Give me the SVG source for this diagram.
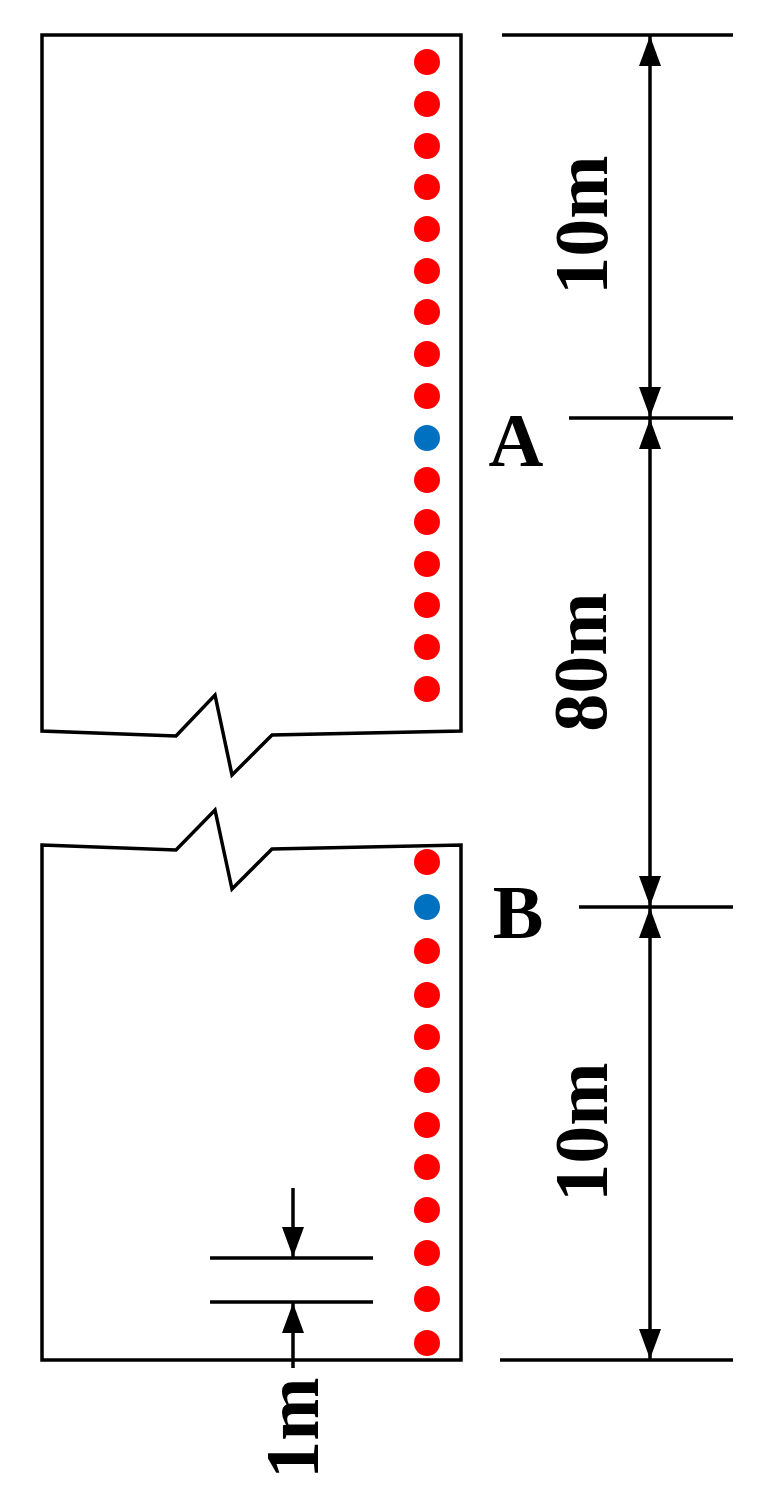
<svg xmlns="http://www.w3.org/2000/svg" width="758" height="1508" viewBox="0 0 758 1508">
<style>
.l{stroke:#000;stroke-width:3.5;fill:none}
.r{fill:#ff0000}.b{fill:#0070c0}
.t{font-family:'Liberation Serif','Times New Roman',Times,serif;font-weight:700;font-size:76px;fill:#000}
</style>
<defs>
<marker id="ah" viewBox="0 0 30 22" refX="30" refY="11" markerWidth="30" markerHeight="22" markerUnits="userSpaceOnUse" orient="auto"><path d="M0,0L30,11L0,22Z" fill="#000"/></marker>
</defs>
<rect width="758" height="1508" fill="#fff"/>
<g id="block-top"><path class="l" d="M42,35H461V731L272,735L232,775L215,695L176,736L42,731Z"/></g>
<g id="block-bottom"><path class="l" d="M42,845L176,850L215,810L232,889L272,849L461,845V1360H42Z"/></g>
<g id="dots-top">
<circle class="r" cx="427" cy="62" r="13"/><circle class="r" cx="427" cy="104" r="13"/><circle class="r" cx="427" cy="146" r="13"/><circle class="r" cx="427" cy="187" r="13"/><circle class="r" cx="427" cy="229" r="13"/><circle class="r" cx="427" cy="271" r="13"/><circle class="r" cx="427" cy="312" r="13"/><circle class="r" cx="427" cy="354" r="13"/><circle class="r" cx="427" cy="396" r="13"/><circle class="b" cx="427" cy="438" r="13"/><circle class="r" cx="427" cy="480" r="13"/><circle class="r" cx="427" cy="522" r="13"/><circle class="r" cx="427" cy="564" r="13"/><circle class="r" cx="427" cy="605" r="13"/><circle class="r" cx="427" cy="647" r="13"/><circle class="r" cx="427" cy="689" r="13"/>
</g>
<g id="dots-bottom">
<circle class="r" cx="427" cy="862" r="13"/><circle class="b" cx="427" cy="907" r="13"/><circle class="r" cx="427" cy="951" r="13"/><circle class="r" cx="427" cy="995" r="13"/><circle class="r" cx="427" cy="1037" r="13"/><circle class="r" cx="427" cy="1080" r="13"/><circle class="r" cx="427" cy="1125" r="13"/><circle class="r" cx="427" cy="1167" r="13"/><circle class="r" cx="427" cy="1210" r="13"/><circle class="r" cx="427" cy="1253" r="13"/><circle class="r" cx="427" cy="1299" r="13"/><circle class="r" cx="427" cy="1343" r="13"/>
</g>
<g id="connectors">
<path class="l" d="M502,35H733M569,418H733M579,907H733M500,1360H733"/>
<line class="l" x1="650" y1="226" x2="650" y2="36" marker-end="url(#ah)"/>
<line class="l" x1="650" y1="226" x2="650" y2="417" marker-end="url(#ah)"/>
<line class="l" x1="650" y1="662" x2="650" y2="419" marker-end="url(#ah)"/>
<line class="l" x1="650" y1="662" x2="650" y2="906" marker-end="url(#ah)"/>
<line class="l" x1="650" y1="1132" x2="650" y2="908" marker-end="url(#ah)"/>
<line class="l" x1="650" y1="1132" x2="650" y2="1359" marker-end="url(#ah)"/>
<path class="l" d="M210,1258H373M210,1302H373"/>
<line class="l" x1="293" y1="1188" x2="293" y2="1257" marker-end="url(#ah)"/>
<line class="l" x1="293" y1="1368" x2="293" y2="1303" marker-end="url(#ah)"/>
</g>
<g id="labels">
<text class="t" text-anchor="middle" transform="translate(607,225) rotate(-90)">10m</text>
<text class="t" text-anchor="middle" transform="translate(606,662) rotate(-90)">80m</text>
<text class="t" text-anchor="middle" transform="translate(607,1132) rotate(-90)">10m</text>
<text class="t" text-anchor="middle" transform="translate(318,1428) rotate(-90)">1m</text>
<text class="t" x="516" y="466" text-anchor="middle">A</text>
<text class="t" x="518" y="938" text-anchor="middle">B</text>
</g>
</svg>
